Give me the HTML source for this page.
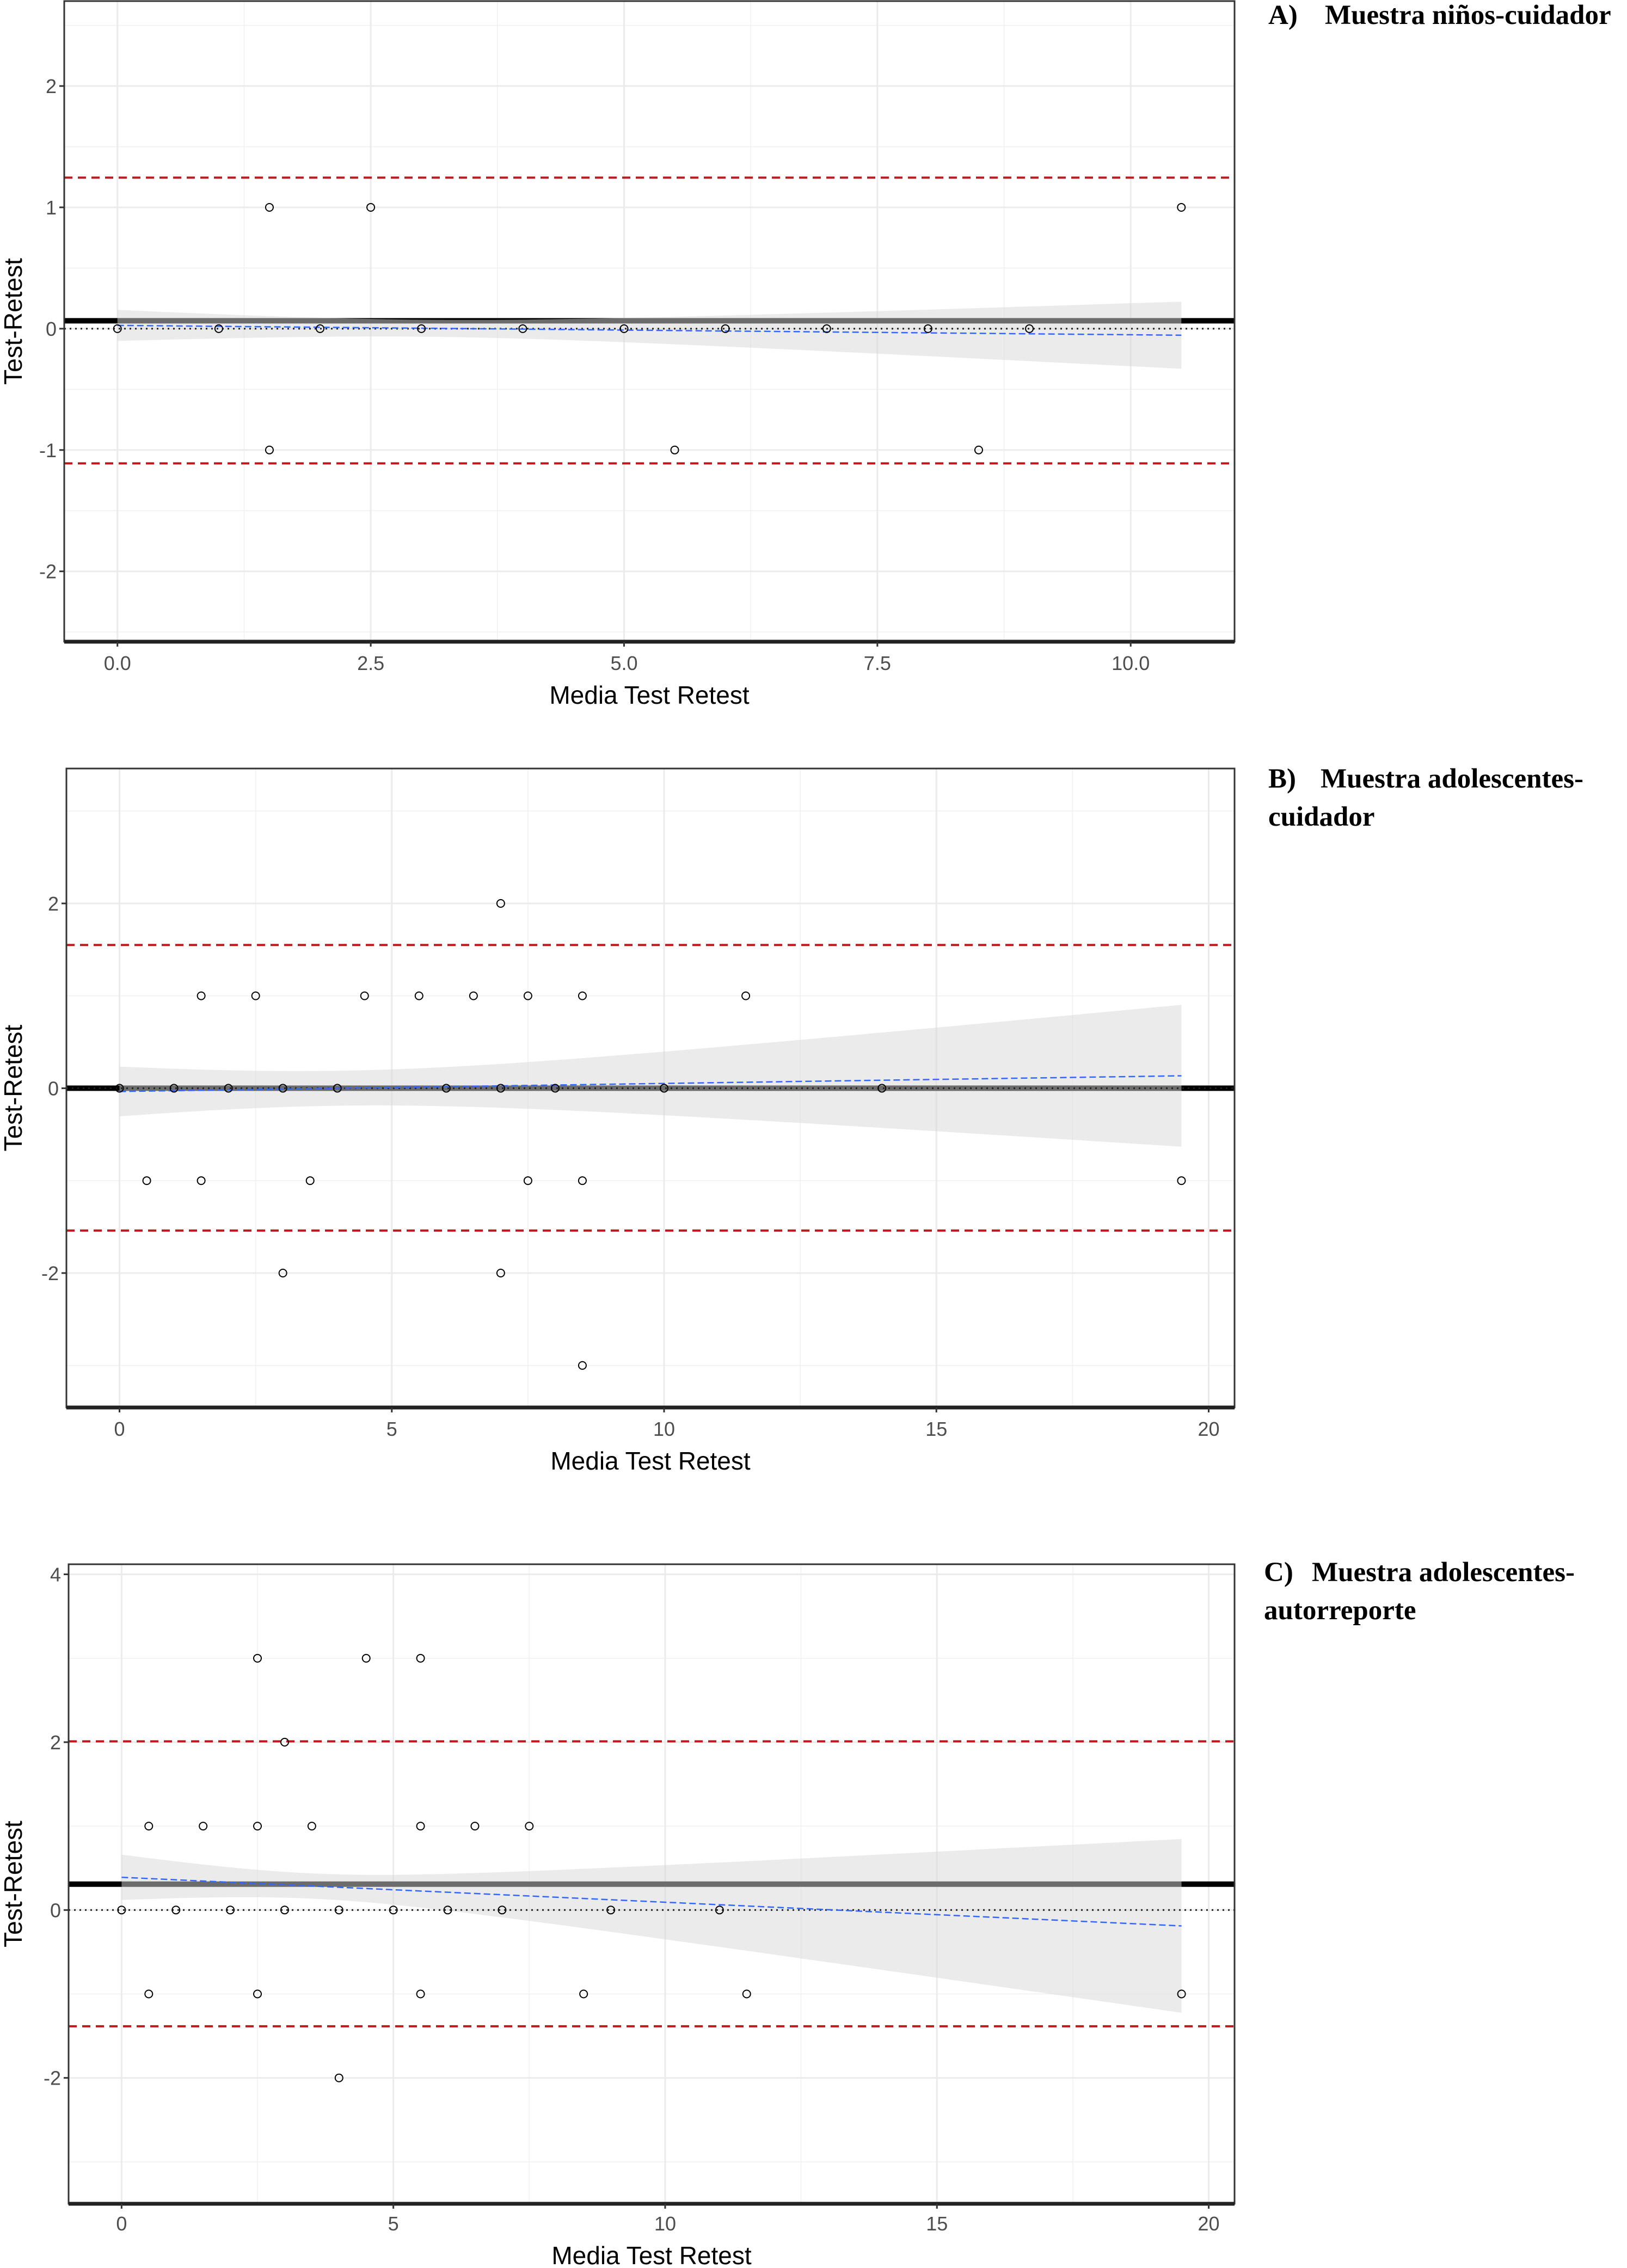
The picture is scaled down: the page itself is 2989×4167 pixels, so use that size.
<!DOCTYPE html>
<html><head><meta charset="utf-8">
<style>
html,body{margin:0;padding:0;background:#fff;}
svg{display:block;}
</style></head>
<body>
<svg id="chart" width="2989" height="4167" viewBox="0 0 2989 4167" xmlns="http://www.w3.org/2000/svg"></svg>
<script>
// ---- Panel A data ----
const aPointsX = [0,1,2,3,4,5,6,7,8,9,1.5,2.5,10.5,1.5,5.5,8.5];
const aPointsY = [0,0,0,0,0,0,0,0,0,0,1,1,1,-1,-1,-1];
const aMeanDiff = 0.065;
const aUpperLoA = 1.245;
const aLowerLoA = -1.11;
const aFit = [0.027, -0.0077];
const aCI = [0.07, 0.0357, 3];
const aXTicks = [0, 2.5, 5, 7.5, 10];
const aXTickLabels = ["0.0","2.5","5.0","7.5","10.0"];
const aYTicks = [-2,-1,0,1,2];
const aYTickLabels = ["-2","-1","0","1","2"];

// ---- Panel B data ----
const bPointsX = [0,1,2,3,4,6,7,8,10,14, 1.5,2.5,4.5,5.5,6.5,7.5,8.5,11.5, 7, 0.5,1.5,3.5,7.5,8.5,19.5, 3,7, 8.5];
const bPointsY = [0,0,0,0,0,0,0,0,0,0, 1,1,1,1,1,1,1,1, 2, -1,-1,-1,-1,-1,-1, -2,-2, -3];
const bMeanDiff = 0.0;
const bUpperLoA = 1.55;
const bLowerLoA = -1.54;
const bFit = [-0.035, 0.0087];
const bCI = [0.189, 0.048, 4];
const bXTicks = [0,5,10,15,20];
const bXTickLabels = ["0","5","10","15","20"];
const bYTicks = [-2,0,2];
const bYTickLabels = ["-2","0","2"];

// ---- Panel C data ----
const cPointsX = [2.5,4.5,5.5, 3, 0.5,1.5,2.5,3.5,5.5,6.5,7.5, 0,1,2,3,4,5,6,7,9,11, 0.5,2.5,5.5,8.5,11.5,19.5, 4];
const cPointsY = [3,3,3, 2, 1,1,1,1,1,1,1, 0,0,0,0,0,0,0,0,0,0, -1,-1,-1,-1,-1,-1, -2];
const cMeanDiff = 0.308;
const cUpperLoA = 2.01;
const cLowerLoA = -1.385;
const cFit = [0.39, -0.0297];
const cCI = [0.15, 0.064, 3.5];
const cXTicks = [0,5,10,15,20];
const cXTickLabels = ["0","5","10","15","20"];
const cYTicks = [-2,0,2,4];
const cYTickLabels = ["-2","0","2","4"];

const NS = "http://www.w3.org/2000/svg";
const svg = document.getElementById('chart');
function mk(tag, attrs, parent){
  const e = document.createElementNS(NS, tag);
  for (const k in attrs) e.setAttribute(k, attrs[k]);
  (parent||svg).appendChild(e);
  return e;
}

function panel(cfg){
  const g = mk('g', {});
  
  
  const L=cfg.left, R=cfg.right, T=cfg.top, B=cfg.bottom;
  const sx = v => L + (v - cfg.xmin)/(cfg.xmax-cfg.xmin)*(R-L);
  const sy = v => B - (v - cfg.ymin)/(cfg.ymax-cfg.ymin)*(B-T);
  for (let v=cfg.xMinorStart; v<=cfg.xmax; v+=cfg.xMinorStep){
    const l = mk('line',{x1:sx(v),x2:sx(v),y1:T,y2:B,stroke:'#f0f0f0','stroke-width':1.5},g);
    
    
  }
  for (let v=cfg.yMinorStart; v<=cfg.ymax; v+=cfg.yMinorStep){
    const l = mk('line',{x1:L,x2:R,y1:sy(v),y2:sy(v),stroke:'#f0f0f0','stroke-width':1.5},g);
    
    
  }
  cfg.xTicks.forEach(v=>{
    const l = mk('line',{x1:sx(v),x2:sx(v),y1:T,y2:B,stroke:'#ebebeb','stroke-width':3},g);
    
    
  });
  cfg.yTicks.forEach(v=>{
    const l = mk('line',{x1:L,x2:R,y1:sy(v),y2:sy(v),stroke:'#ebebeb','stroke-width':3},g);
    
    
  });
  const m = mk('line',{x1:L,x2:R,y1:sy(cfg.mean),y2:sy(cfg.mean),stroke:'#000','stroke-width':10},g);
  
  
  const x0 = Math.min(...cfg.px), x1 = Math.max(...cfg.px);
  const up=[], lo=[];
  const N=60;
  for (let i=0;i<=N;i++){
    const x = x0 + (x1-x0)*i/N;
    const c = cfg.fit[0] + cfg.fit[1]*x;
    const w = Math.sqrt(cfg.ci[0]*cfg.ci[0] + cfg.ci[1]*cfg.ci[1]*(x-cfg.ci[2])*(x-cfg.ci[2]));
    up.push(sx(x).toFixed(1)+','+sy(c+w).toFixed(1));
    lo.unshift(sx(x).toFixed(1)+','+sy(c-w).toFixed(1));
  }
  const rib = mk('polygon',{points:up.concat(lo).join(' '),fill:'rgb(215,215,215)','fill-opacity':0.5},g);
  
  
  const z = mk('line',{x1:L,x2:R,y1:sy(0),y2:sy(0),stroke:'#222','stroke-width':3,'stroke-dasharray':'3 7'},g);
  
  
  const f = mk('line',{x1:sx(x0),x2:sx(x1),y1:sy(cfg.fit[0]+cfg.fit[1]*x0),y2:sy(cfg.fit[0]+cfg.fit[1]*x1),stroke:'#3366ff','stroke-width':2.5,'stroke-dasharray':'12 6'},g);
  
  
  [cfg.upper, cfg.lower].forEach((v,i)=>{
    const l = mk('line',{x1:L,x2:R,y1:sy(v),y2:sy(v),stroke:'#c0181c','stroke-width':4,'stroke-dasharray':'15 10'},g);
    
    
  });
  cfg.px.forEach((x,i)=>{
    const c = mk('circle',{cx:sx(x),cy:sy(cfg.py[i]),r:7,fill:'none',stroke:'#000','stroke-width':2},g);
    
    
  });
  const br = mk('rect',{x:L,y:T,width:R-L,height:B-T,fill:'none',stroke:'#333','stroke-width':3},g);
  
  
  const ax = mk('line',{x1:L,x2:R,y1:B,y2:B,stroke:'#222','stroke-width':7},g);
  
  
  cfg.xTicks.forEach((v,i)=>{
    const t = mk('line',{x1:sx(v),x2:sx(v),y1:B,y2:B+9,stroke:'#333','stroke-width':3},g);
    
    
    const tx = mk('text',{x:sx(v),y:cfg.xTickY,'text-anchor':'middle','font-family':'Liberation Sans, sans-serif','font-size':36,fill:'#4d4d4d'},g);
    tx.textContent = cfg.xLabels[i];
    
    
  });
  cfg.yTicks.forEach((v,i)=>{
    const t = mk('line',{x1:L-9,x2:L,y1:sy(v),y2:sy(v),stroke:'#333','stroke-width':3},g);
    
    
    const tx = mk('text',{x:L-14,y:sy(v)+13,'text-anchor':'end','font-family':'Liberation Sans, sans-serif','font-size':36,fill:'#4d4d4d'},g);
    tx.textContent = cfg.yLabels[i];
    
    
  });
  const xt = mk('text',{x:(L+R)/2,y:cfg.xTitleY,'text-anchor':'middle','font-family':'Liberation Sans, sans-serif','font-size':46,fill:'#000'},g);
  xt.textContent = 'Media Test Retest';
  
  
  const cy=(T+B)/2;
  const yt = mk('text',{x:0,y:0,transform:`translate(40,${cy}) rotate(-90)`,'text-anchor':'middle','font-family':'Liberation Sans, sans-serif','font-size':46,fill:'#000'},g);
  yt.textContent = 'Test-Retest';
  
  
  cfg.title.forEach(p=>{
    const t = mk('text',{x:p.x,y:p.y,'font-family':'Liberation Serif, serif','font-size':51,'font-weight':'bold',fill:'#000'},g);
    t.textContent = p.s;
    
    
  });
}

panel({name:'panel-a', left:118,right:2268,top:2,bottom:1179, xmin:-0.525,xmax:11.025, ymin:-2.58,ymax:2.70,
  xMinorStart:1.25,xMinorStep:2.5,yMinorStart:-2.5,yMinorStep:1,
  xTicks:aXTicks,xLabels:aXTickLabels,yTicks:aYTicks,yLabels:aYTickLabels,
  px:aPointsX,py:aPointsY,mean:aMeanDiff,upper:aUpperLoA,lower:aLowerLoA,fit:aFit,ci:aCI,
  xTickY:1231,xTitleY:1293,
  title:[{s:'A)',x:2330,y:44},{s:'Muestra niños-cuidador',x:2434,y:44}]});
panel({name:'panel-b', left:122,right:2268,top:1412,bottom:2586, xmin:-0.975,xmax:20.475, ymin:-3.455,ymax:3.46,
  xMinorStart:2.5,xMinorStep:5,yMinorStart:-3,yMinorStep:2,
  xTicks:bXTicks,xLabels:bXTickLabels,yTicks:bYTicks,yLabels:bYTickLabels,
  px:bPointsX,py:bPointsY,mean:bMeanDiff,upper:bUpperLoA,lower:bLowerLoA,fit:bFit,ci:bCI,
  xTickY:2638,xTitleY:2700,
  title:[{s:'B)',x:2330,y:1447},{s:'Muestra adolescentes-',x:2426,y:1447},{s:'cuidador',x:2330,y:1517}]});
panel({name:'panel-c', left:126,right:2268,top:2874,bottom:4049, xmin:-0.975,xmax:20.475, ymin:-3.50,ymax:4.12,
  xMinorStart:2.5,xMinorStep:5,yMinorStart:-3,yMinorStep:2,
  xTicks:cXTicks,xLabels:cXTickLabels,yTicks:cYTicks,yLabels:cYTickLabels,
  px:cPointsX,py:cPointsY,mean:cMeanDiff,upper:cUpperLoA,lower:cLowerLoA,fit:cFit,ci:cCI,
  xTickY:4098,xTitleY:4160,
  title:[{s:'C)',x:2322,y:2905},{s:'Muestra adolescentes-',x:2410,y:2905},{s:'autorreporte',x:2322,y:2975}]});
</script>
</body></html>
